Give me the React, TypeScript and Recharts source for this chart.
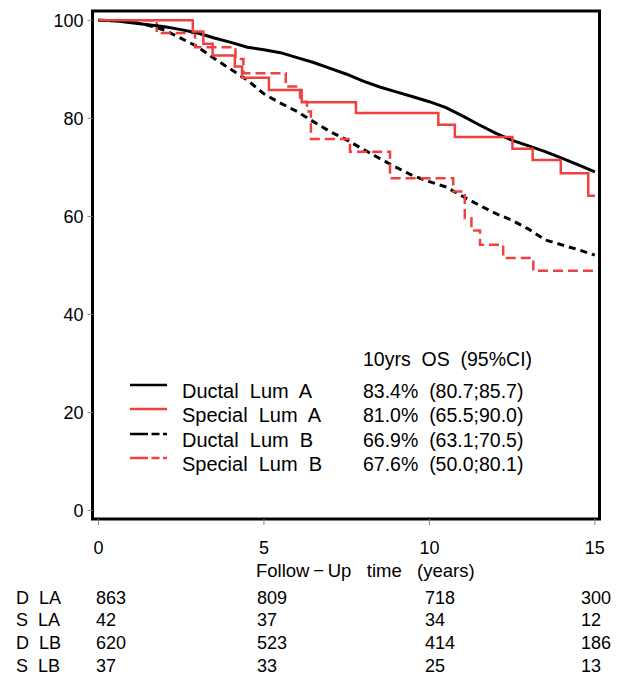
import React from 'react';
import { LineChart, Line, XAxis, YAxis, ReferenceArea } from 'recharts';

// ---- axes ----
const X_TICKS = [0, 5, 10, 15];
const Y_TICKS = [0, 20, 40, 60, 80, 100];
const X_MIN = -0.18;
const X_MAX = 15.14;
const Y_MIN = -1.73;
const Y_MAX = 101.9;

// ---- series (time in years, overall survival %) ----
const ductalLumA = [
  { t: 0, s: 100 }, { t: 0.5, s: 99.9 }, { t: 1.0, s: 99.5 }, { t: 1.5, s: 99.1 },
  { t: 2.0, s: 98.7 }, { t: 2.5, s: 98.1 }, { t: 3.0, s: 97.4 }, { t: 3.5, s: 96.4 },
  { t: 4.0, s: 95.5 }, { t: 4.5, s: 94.5 }, { t: 5.0, s: 94.0 }, { t: 5.5, s: 93.4 },
  { t: 6.0, s: 92.4 }, { t: 6.5, s: 91.4 }, { t: 7.0, s: 90.2 }, { t: 7.5, s: 89.0 },
  { t: 8.0, s: 87.6 }, { t: 8.5, s: 86.4 }, { t: 9.0, s: 85.4 }, { t: 9.5, s: 84.4 },
  { t: 10.0, s: 83.4 }, { t: 10.5, s: 82.2 }, { t: 11.0, s: 80.5 }, { t: 11.5, s: 78.7 },
  { t: 12.0, s: 77.0 }, { t: 12.5, s: 75.5 }, { t: 13.0, s: 74.4 }, { t: 13.5, s: 73.2 },
  { t: 14.0, s: 71.9 }, { t: 14.5, s: 70.5 }, { t: 15.0, s: 69.1 },
];

const specialLumA = [
  { t: 0, s: 100 }, { t: 2.85, s: 97.7 }, { t: 3.17, s: 95.2 }, { t: 3.45, s: 92.8 },
  { t: 4.12, s: 90.6 }, { t: 4.34, s: 88.3 }, { t: 5.15, s: 85.8 }, { t: 6.14, s: 83.3 },
  { t: 7.78, s: 81.1 }, { t: 10.27, s: 78.7 }, { t: 10.77, s: 76.2 }, { t: 12.51, s: 73.8 },
  { t: 13.12, s: 71.5 }, { t: 13.97, s: 68.8 }, { t: 14.8, s: 64.2 }, { t: 15.0, s: 64.2 },
];

const ductalLumB = [
  { t: 0, s: 100 }, { t: 0.5, s: 99.9 }, { t: 1.0, s: 99.7 }, { t: 1.5, s: 99.0 },
  { t: 2.0, s: 98.0 }, { t: 2.5, s: 96.3 }, { t: 3.0, s: 94.6 }, { t: 3.5, s: 92.2 },
  { t: 4.0, s: 90.0 }, { t: 4.5, s: 87.8 }, { t: 5.0, s: 85.0 }, { t: 5.5, s: 83.1 },
  { t: 6.0, s: 81.4 }, { t: 6.5, s: 79.3 }, { t: 7.0, s: 77.3 }, { t: 7.5, s: 75.6 },
  { t: 8.0, s: 73.7 }, { t: 8.5, s: 71.8 }, { t: 9.0, s: 70.0 }, { t: 9.5, s: 68.3 },
  { t: 10.0, s: 67.1 }, { t: 10.5, s: 66.0 }, { t: 11.0, s: 64.1 }, { t: 11.5, s: 62.3 },
  { t: 12.0, s: 60.6 }, { t: 12.5, s: 59.2 }, { t: 13.0, s: 57.4 }, { t: 13.5, s: 55.2 },
  { t: 14.0, s: 54.2 }, { t: 14.5, s: 53.2 }, { t: 15.0, s: 52.1 },
];

const specialLumB = [
  { t: 0, s: 100 }, { t: 1.76, s: 97.4 }, { t: 2.92, s: 94.5 }, { t: 4.14, s: 92.1 },
  { t: 4.38, s: 89.2 }, { t: 5.66, s: 86.5 }, { t: 6.09, s: 83.4 }, { t: 6.3, s: 81.4 },
  { t: 6.42, s: 75.8 }, { t: 7.6, s: 73.2 }, { t: 8.81, s: 67.8 }, { t: 10.72, s: 65.1 },
  { t: 11.07, s: 59.6 }, { t: 11.27, s: 57.1 }, { t: 11.53, s: 54.2 }, { t: 12.23, s: 51.5 },
  { t: 13.14, s: 48.9 }, { t: 15.0, s: 48.9 },
];

// ---- legend / table text ----
const legendNames = ['Ductal Lum A', 'Special Lum A', 'Ductal Lum B', 'Special Lum B'];
const legendOS = ['83.4%  (80.7;85.7)', '81.0%  (65.5;90.0)', '66.9%  (63.1;70.5)', '67.6%  (50.0;80.1)'];
const legendHeader = '10yrs  OS  (95%CI)';
const riskLabels = ['D  LA', 'S  LA', 'D  LB', 'S  LB'];
const riskCounts = [
  ['863', '809', '718', '300'],
  ['42', '37', '34', '12'],
  ['620', '523', '414', '186'],
  ['37', '33', '25', '13'],
];
const xAxisTitle = 'Follow\u2009\u2212\u2009Up   time   (years)';

const RED = '#f04040';
const FONT = '"Liberation Sans", Arial, Helvetica, sans-serif';

const legendStyles = [
  { stroke: '#000', dash: undefined },
  { stroke: RED, dash: undefined },
  { stroke: '#000', dash: '18 3.5 8 3.5' },
  { stroke: RED, dash: '18 3.5 8 3.5' },
];

const colX = [96, 257, 425, 581];
const rowY = [604, 626, 649, 672];
const legendRowY = [398, 422, 447, 471];

export default function App() {
  return (
    <div style={{ position: 'absolute', left: 0, top: 0, width: 619, height: 678, background: '#fff', fontFamily: FONT }}>
      <LineChart width={619} height={678} margin={{ top: 11, right: 19.5, left: 0, bottom: 129 }}>
        <XAxis
          dataKey="t"
          type="number"
          domain={[X_MIN, X_MAX]}
          ticks={X_TICKS}
          allowDataOverflow
          axisLine={false}
          tickLine={{ stroke: '#888', strokeWidth: 1 }}
          tickSize={6}
          tickMargin={16}
          height={30}
          tick={{ fill: '#000', fontSize: 18, fontFamily: FONT }}
        />
        <YAxis
          type="number"
          domain={[Y_MIN, Y_MAX]}
          ticks={Y_TICKS}
          allowDataOverflow
          axisLine={false}
          tickLine={{ stroke: '#888', strokeWidth: 1 }}
          tickSize={5}
          tickMargin={4}
          width={92.5}
          tick={{ fill: '#000', fontSize: 18, fontFamily: FONT }}
        />
        <ReferenceArea x1={X_MIN} x2={X_MAX} y1={Y_MIN} y2={Y_MAX} fill="#fff" fillOpacity={0} stroke="#000" strokeWidth={3} />
        <Line data={ductalLumB} dataKey="s" type="linear" stroke="#000" strokeWidth={3} strokeDasharray="7 5" dot={false} isAnimationActive={false} />
        <Line data={specialLumB} dataKey="s" type="stepAfter" stroke={RED} strokeWidth={2.5} strokeDasharray="10 5" dot={false} isAnimationActive={false} />
        <Line data={ductalLumA} dataKey="s" type="linear" stroke="#000" strokeWidth={3} dot={false} isAnimationActive={false} />
        <Line data={specialLumA} dataKey="s" type="stepAfter" stroke={RED} strokeWidth={2.5} dot={false} isAnimationActive={false} />
      </LineChart>
      <svg width={619} height={678} style={{ position: 'absolute', left: 0, top: 0, pointerEvents: 'none' }}>
        <g fontFamily={FONT} fill="#000">
          <text x={363} y={366} fontSize={19.5} style={{ whiteSpace: 'pre' }}>{legendHeader}</text>
          {legendNames.map((n, i) => (
            <g key={n}>
              <line x1={130} x2={167} y1={legendRowY[i] - 13} y2={legendRowY[i] - 13} stroke={legendStyles[i].stroke} strokeWidth={2.5} strokeDasharray={legendStyles[i].dash} />
              <text x={182} y={legendRowY[i]} fontSize={20} style={{ whiteSpace: 'pre' }}>{n.split(' ').join('  ')}</text>
              <text x={363} y={legendRowY[i]} fontSize={19.5} style={{ whiteSpace: 'pre' }}>{legendOS[i]}</text>
            </g>
          ))}
          <text x={256} y={577} fontSize={18.5} style={{ whiteSpace: 'pre' }}>{xAxisTitle}</text>
          {riskLabels.map((lab, r) => (
            <g key={lab}>
              <text x={16} y={rowY[r]} fontSize={18} style={{ whiteSpace: 'pre' }}>{lab}</text>
              {riskCounts[r].map((c, k) => (
                <text key={k} x={colX[k]} y={rowY[r]} fontSize={18}>{c}</text>
              ))}
            </g>
          ))}
        </g>
      </svg>
    </div>
  );
}
